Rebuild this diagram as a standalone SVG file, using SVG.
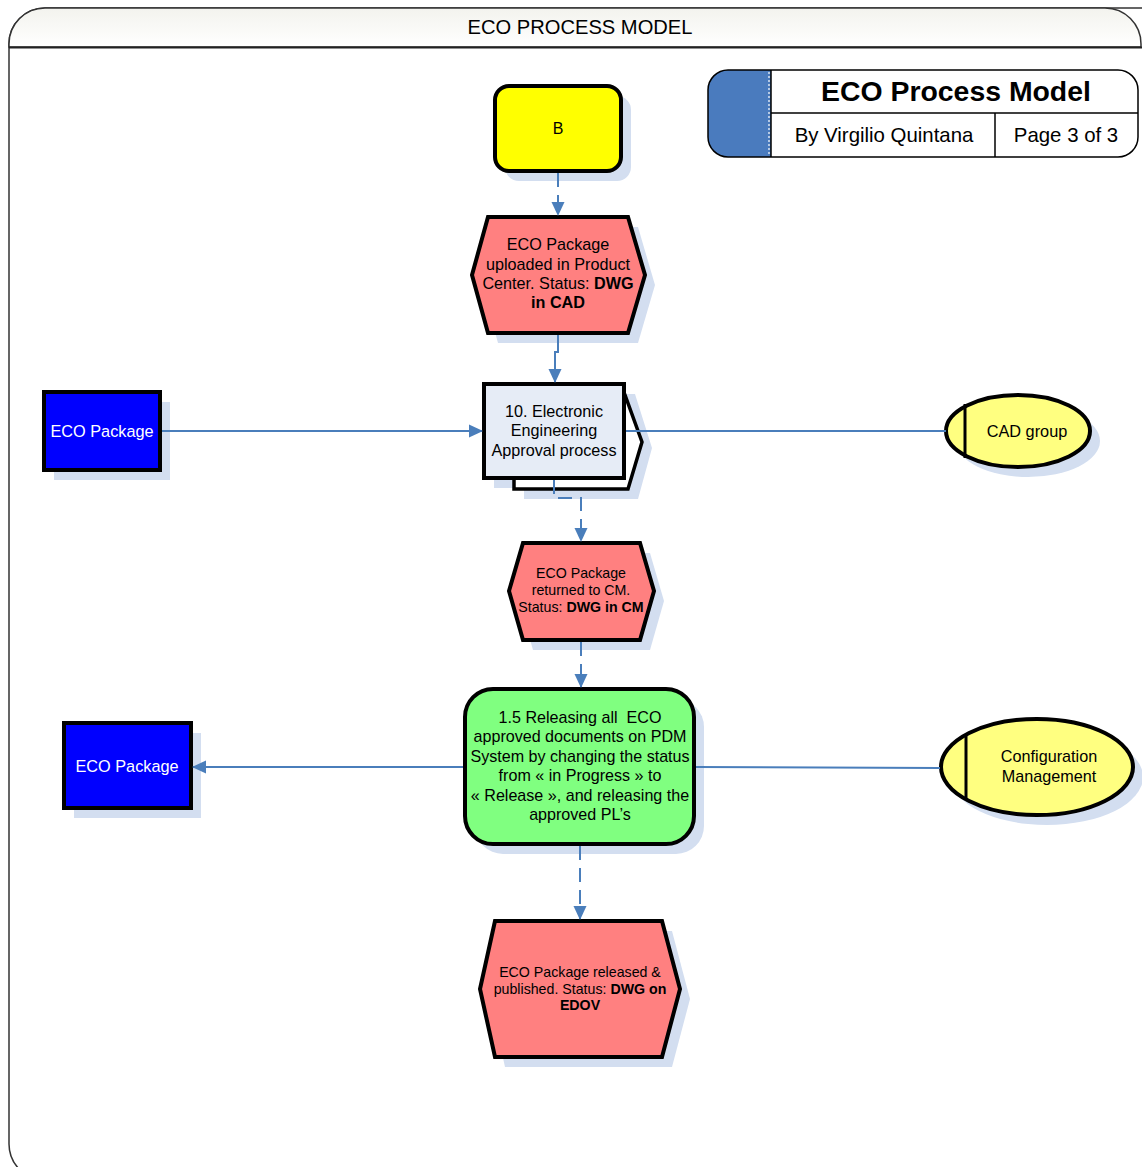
<svg xmlns="http://www.w3.org/2000/svg" width="1142" height="1167" viewBox="0 0 1142 1167">
<defs>
<marker id="arr" markerWidth="14" markerHeight="14" refX="13" refY="7" orient="auto" markerUnits="userSpaceOnUse"><path d="M0,0.5 L14,7 L0,13.5 Z" fill="#4A7EBB"/></marker>
<linearGradient id="hdr" x1="0" y1="0" x2="0" y2="1"><stop offset="0" stop-color="#F3F3EE"/><stop offset="1" stop-color="#FFFFFF"/></linearGradient>
<style>
.t{font-family:"Liberation Sans",Arial,sans-serif;fill:#000;text-anchor:middle}
.sh{fill:#D3DEF0}
.k{stroke:#000;stroke-width:4}
.c{fill:none;stroke:#4A7EBB;stroke-width:2}
.d{stroke-dasharray:14,8}
</style>
</defs>
<rect width="1142" height="1167" fill="#fff"/>
<g id="frame">
<rect x="9" y="8" width="1170" height="1172" rx="36" fill="#fff" stroke="#333" stroke-width="1.5"/>
<path d="M9,47 V44 A36,36 0 0 1 45,8 H1105 A36,36 0 0 1 1141,44 V47 Z" fill="url(#hdr)" stroke="#333" stroke-width="1.5"/>
<line x1="9" y1="47.5" x2="1142" y2="47.5" stroke="#222" stroke-width="2"/>
<text x="580" y="34" font-family="'Liberation Sans',Arial,sans-serif" font-size="20" text-anchor="middle" textLength="225" lengthAdjust="spacingAndGlyphs">ECO PROCESS MODEL</text>
</g>
<g id="titleblock">
<path d="M728,70 H771 V157 H728 A20,20 0 0 1 708,137 V90 A20,20 0 0 1 728,70 Z" fill="#4A7BBE"/>
<path d="M728,70 H1118 A20,20 0 0 1 1138,90 V137 A20,20 0 0 1 1118,157 H728 A20,20 0 0 1 708,137 V90 A20,20 0 0 1 728,70 Z" fill="none" stroke="#000" stroke-width="1.5"/>
<line x1="771" y1="70" x2="771" y2="157" stroke="#000" stroke-width="1.5"/>
<line x1="769" y1="72" x2="769" y2="156" stroke="#fff" stroke-width="1.2" stroke-dasharray="2,2"/>
<line x1="771" y1="113" x2="1138" y2="113" stroke="#000" stroke-width="1.5"/>
<line x1="995" y1="113" x2="995" y2="157" stroke="#000" stroke-width="1.5"/>
<text class="t" x="956" y="101" font-size="28.4" font-weight="bold">ECO Process Model</text>
<text class="t" x="884" y="142" font-size="20.4">By Virgilio Quintana</text>
<text class="t" x="1066" y="142" font-size="20.4">Page 3 of 3</text>
</g>
<g id="nodeB">
<rect class="sh" x="505" y="96" width="126" height="85" rx="14"/>
<rect class="k" x="495" y="86" width="126" height="85" rx="14" fill="#FFFF00"/>
<text class="t" x="558" y="134" font-size="16">B</text>
</g>
<g id="hex1">
<polygon class="sh" points="498,227 638,227 655,285 638,343 498,343 482,285"/>
<polygon class="k" points="488,217 628,217 645,275 628,333 488,333 472,275" fill="#FF8080"/>
<text class="t" font-size="16.2"><tspan x="558" y="250">ECO Package</tspan><tspan x="558" y="270">uploaded in Product</tspan><tspan x="558" y="289">Center. Status: <tspan font-weight="bold">DWG</tspan></tspan><tspan x="558" y="308" font-weight="bold">in CAD</tspan></text>
</g>
<g id="proc10">
<polygon class="sh" points="494,394 635,394 652,448 638,499 524,499 524,488 494,488"/>
<polygon points="514,395 625,395 642,442 628,489 514,489" fill="#fff" stroke="#000" stroke-width="3.5"/>
<rect class="k" x="484" y="384" width="140" height="94" fill="#E6ECF6"/>
<text class="t" font-size="16.2"><tspan x="554" y="417">10. Electronic</tspan><tspan x="554" y="436">Engineering</tspan><tspan x="554" y="456">Approval process</tspan></text>
</g>
<g id="hex2">
<polygon class="sh" points="533,553 650,553 664,601 650,650 533,650 519,601"/>
<polygon class="k" points="523,543 640,543 654,591 640,640 523,640 509,591" fill="#FF8080"/>
<text class="t" font-size="14.2"><tspan x="581" y="578">ECO Package</tspan><tspan x="581" y="595">returned to CM.</tspan><tspan x="581" y="612">Status: <tspan font-weight="bold">DWG in CM</tspan></tspan></text>
</g>
<g id="release">
<rect class="sh" x="475" y="699" width="229" height="155" rx="28"/>
<rect class="k" x="465" y="689" width="229" height="155" rx="28" fill="#80FF80"/>
<text class="t" font-size="16.1"><tspan x="580" y="723" style="white-space:pre">1.5 Releasing all  ECO</tspan><tspan x="580" y="742">approved documents on PDM</tspan><tspan x="580" y="762">System by changing the status</tspan><tspan x="580" y="781">from « in Progress » to</tspan><tspan x="580" y="801">« Release », and releasing the</tspan><tspan x="580" y="820">approved PL’s</tspan></text>
</g>
<g id="hex3">
<polygon class="sh" points="505,931 672,931 690,999 672,1067 505,1067 490,999"/>
<polygon class="k" points="495,921 662,921 680,989 662,1057 495,1057 480,989" fill="#FF8080"/>
<text class="t" font-size="14.2"><tspan x="580" y="977">ECO Package released &amp;</tspan><tspan x="580" y="994">published. Status: <tspan font-weight="bold">DWG on</tspan></tspan><tspan x="580" y="1010" font-weight="bold">EDOV</tspan></text>
</g>
<g id="cad">
<ellipse class="sh" cx="1028" cy="441" rx="72" ry="36"/>
<ellipse class="k" cx="1018" cy="431" rx="72" ry="36" fill="#FFFF80"/>
<line x1="965" y1="404" x2="965" y2="458" stroke="#000" stroke-width="3"/>
<text class="t" x="1027" y="437" font-size="16.3">CAD group</text>
</g>
<g id="config">
<ellipse class="sh" cx="1047" cy="777" rx="96" ry="48"/>
<ellipse class="k" cx="1037" cy="767" rx="96" ry="48" fill="#FFFF80"/>
<line x1="966" y1="735" x2="966" y2="800" stroke="#000" stroke-width="3"/>
<text class="t" font-size="16.2"><tspan x="1049" y="762">Configuration</tspan><tspan x="1049" y="782">Management</tspan></text>
</g>
<g id="pkg1">
<rect class="sh" x="54" y="402" width="116" height="78"/>
<rect class="k" x="44" y="392" width="116" height="78" fill="#0000FF"/>
<text class="t" x="102" y="437" font-size="16.3" style="fill:#fff">ECO Package</text>
</g>
<g id="pkg2">
<rect class="sh" x="74" y="733" width="127" height="85"/>
<rect class="k" x="64" y="723" width="127" height="85" fill="#0000FF"/>
<text class="t" x="127" y="772" font-size="16.3" style="fill:#fff">ECO Package</text>
</g>
<g id="connectors">
<path class="c d" d="M558,173 V215" marker-end="url(#arr)"/>
<path class="c" d="M558,335 V352 H555 V382" marker-end="url(#arr)"/>
<path class="c" d="M162,431 H482" marker-end="url(#arr)"/>
<path class="c" d="M626,431 H946"/>
<path class="c d" d="M554,480 V498 H581 V541" marker-end="url(#arr)"/>
<path class="c d" d="M581,642 V687" marker-end="url(#arr)"/>
<path class="c" d="M463,767 H193" marker-end="url(#arr)"/>
<path class="c" d="M696,767 L940,768"/>
<path class="c d" d="M580,846 V919" marker-end="url(#arr)"/>
</g>
</svg>
